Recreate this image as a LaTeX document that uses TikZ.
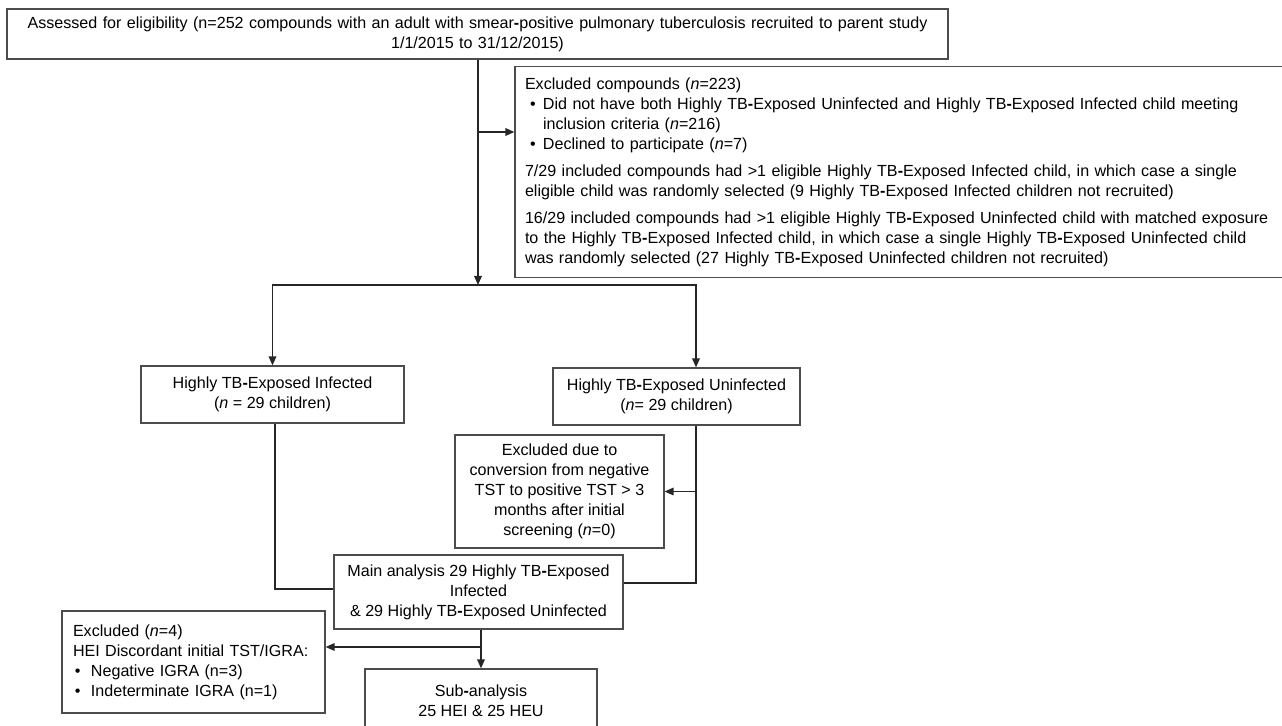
\documentclass[tikz,border=0pt]{standalone}
\usepackage{fontspec}
\setmainfont{Liberation Sans}
\usetikzlibrary{arrows.meta}
\newcommand{\bh}{\textbf{-}}

\begin{document}
\begin{tikzpicture}[x=0.5pt,y=-0.5pt,
	font=\fontsize{8.05}{10}\selectfont,
	box/.style={draw=black!70, line width=0.6pt, inner sep=0pt, align=center},
	line/.style={draw=black!85, line width=0.7pt},
	arr/.style={line, -{Triangle[length=4.5pt,width=3.8pt]}}]
	\useasboundingbox (0,0) rectangle (1282,726);
	% Boxes
	\node[box, minimum width=470.5pt, minimum height=25pt, text width=460pt] (top) at (477.5,34)
	{Assessed for eligibility (n=252 compounds with an adult with smear\bh positive pulmonary tuberculosis recruited to parent study\\ 1/1/2015 to 31/12/2015)};
	\node[box, minimum height=105.5pt, text width=380pt, inner xsep=5pt, align=left] (excl) at (905,172)
	{Excluded compounds (\textit{n}=223)\\
	\makebox[9pt][l]{\hspace*{2.5pt}\textbullet}Did not have both Highly TB\bh Exposed Uninfected and Highly TB\bh Exposed Infected child meeting\\
	\hspace*{9pt}inclusion criteria (\textit{n}=216)\\
	\makebox[9pt][l]{\hspace*{2.5pt}\textbullet}Declined to participate (\textit{n}=7)\\[3.5pt]
	7/29 included compounds had >1 eligible Highly TB\bh Exposed Infected child, in which case a single\\
	eligible child was randomly selected (9 Highly TB\bh Exposed Infected children not recruited)\\[3.5pt]
	16/29 included compounds had >1 eligible Highly TB\bh Exposed Uninfected child with matched exposure\\
	to the Highly TB\bh Exposed Infected child, in which case a single Highly TB\bh Exposed Uninfected child\\
	was randomly selected (27 Highly TB\bh Exposed Uninfected children not recruited)};
	\node[box, minimum width=131.5pt, minimum height=28.5pt] (inf) at (272.5,394.5)
	{Highly TB\bh Exposed Infected\\ (\textit{n} = 29 children)};
	\node[box, minimum width=123.5pt, minimum height=28.5pt] (uninf) at (676.5,396.5)
	{Highly TB\bh Exposed Uninfected\\ (\textit{n}= 29 children)};
	\node[box, minimum width=104.5pt, minimum height=56.5pt] (tst) at (559.5,491.5)
	{Excluded due to\\ conversion from negative\\ TST to positive TST > 3\\ months after initial\\ screening (\textit{n}=0)};
	\node[box, minimum width=144.5pt, minimum height=37pt] (main) at (478.5,592)
	{Main analysis 29 Highly TB\bh Exposed\\ Infected\\ \& 29 Highly TB\bh Exposed Uninfected};
	\node[box, minimum height=51pt, text width=120.5pt, inner xsep=5.5pt, align=left] (igra) at (193.5,662)
	{Excluded (\textit{n}=4)\\
	HEI Discordant initial TST/IGRA:\\
	\makebox[9pt][l]{\hspace*{1pt}\textbullet}Negative IGRA (n=3)\\
	\makebox[9pt][l]{\hspace*{1pt}\textbullet}Indeterminate IGRA (n=1)};
	\node[box, minimum width=116pt, minimum height=32pt] (sub) at (481,701)
	{Sub\bh analysis\\ 25 HEI \& 25 HEU};
	% Joints
	\coordinate (split) at (478,285);
	\coordinate (exj) at (478,132);
	\coordinate (ucol) at (696,285);
	\coordinate (rj) at (696,583);
	\coordinate (lj) at (275,589);
	\coordinate (bj) at (481,647);
	% Arrows
	\draw[arr] (top.south -| split) -- (split);
	\draw[arr] (exj) -- (exj -| excl.west);
	\draw[arr] (split) -| (inf.north);
	\draw[arr] (split) -- (ucol) -- (ucol |- uninf.north);
	\draw[line] (ucol |- uninf.south) -- (rj) -- (rj -| main.east);
	\draw[arr] (ucol |- tst.east) -- (tst.east);
	\draw[line] (inf.south -| lj) -- (lj) -- (lj -| main.west);
	\draw[arr] (main.south -| sub.north) -- (sub.north);
	\draw[arr] (bj) -- (bj -| igra.east);
\end{tikzpicture}
\end{document}
